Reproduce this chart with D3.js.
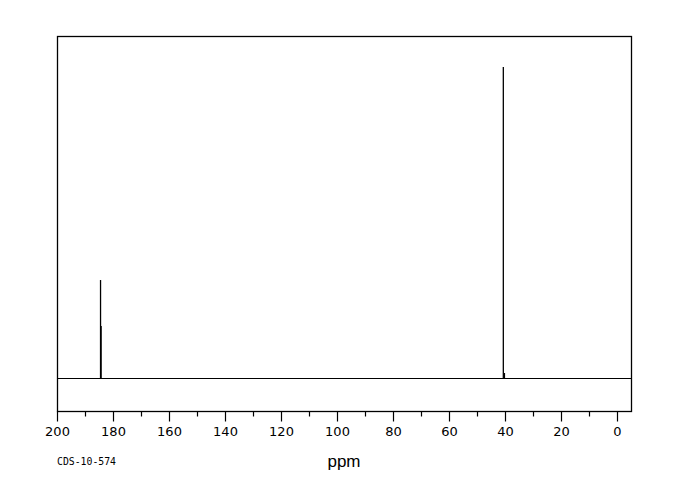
<!DOCTYPE html>
<html>
<head>
<meta charset="utf-8">
<script src="https://cdn.jsdelivr.net/npm/d3@7"></script>
<style>
  html, body { margin: 0; padding: 0; background: #fff; }
  svg { display: block; }
</style>
</head>
<body>
<svg id="chart" width="680" height="500"></svg>
<script>
// Data
const peakPpm = [184.45, 184.25, 40.6, 40.2];
const peakIntensity = [31.5, 16.7, 100, 1.6];
const majorTicks = [200, 180, 160, 140, 120, 100, 80, 60, 40, 20, 0];
const minorTicks = [190, 170, 150, 130, 110, 90, 70, 50, 30, 10];
const xLabel = "ppm";
const codeLabel = "CDS-10-574";

(function () {
const svg = d3.select("#chart");
const fLeft = 57, fRight = 631, fTop = 36, fBottom = 411;

const x = d3.scaleLinear().domain([200, 0]).range([57, 617]);
const y = d3.scaleLinear().domain([0, 100]).range([378, 67]);

// frame
svg.append("rect")
  .attr("x", fLeft + 0.5).attr("y", fTop + 0.5)
  .attr("width", fRight - fLeft).attr("height", fBottom - fTop)
  .attr("fill", "none").attr("stroke", "#000").attr("stroke-width", 1.3);

// baseline
svg.append("line")
  .attr("x1", fLeft).attr("x2", fRight)
  .attr("y1", y(0) + 0.5).attr("y2", y(0) + 0.5)
  .attr("stroke", "#000").attr("stroke-width", 1.2);

// peaks
svg.append("g").selectAll("line")
  .data(peakPpm.map((p, i) => ({ p, v: peakIntensity[i] })))
  .join("line")
  .attr("x1", d => x(d.p)).attr("x2", d => x(d.p))
  .attr("y1", y(0)).attr("y2", d => y(d.v))
  .attr("stroke", "#000").attr("stroke-width", 1.3);

// axis
const axisG = svg.append("g").attr("transform", `translate(0,${fBottom + 0.5})`);
const axis = d3.axisBottom(x).tickValues(majorTicks).tickSize(10).tickPadding(5)
  .tickFormat(d3.format("d"));
axisG.call(axis);
axisG.select(".domain").remove();
axisG.selectAll(".tick line").attr("stroke", "#000").attr("stroke-width", 1.2);
axisG.selectAll(".tick text")
  .attr("font-family", "DejaVu Sans, sans-serif")
  .attr("font-size", 13)
  .attr("fill", "#000");

const minorG = svg.append("g").attr("transform", `translate(0,${fBottom + 0.5})`);
minorG.call(d3.axisBottom(x).tickValues(minorTicks).tickSize(5).tickFormat(""));
minorG.select(".domain").remove();
minorG.selectAll(".tick line").attr("stroke", "#000").attr("stroke-width", 1.2);

// labels
svg.append("text")
  .attr("x", 344).attr("y", 467)
  .attr("text-anchor", "middle")
  .attr("font-family", "Liberation Sans, sans-serif")
  .attr("font-size", 17)
  .text(xLabel);

svg.append("text")
  .attr("x", 57).attr("y", 465)
  .attr("font-family", "DejaVu Sans Mono, monospace")
  .attr("font-size", 9.8)
  .text(codeLabel);
})();
</script>
</body>
</html>
